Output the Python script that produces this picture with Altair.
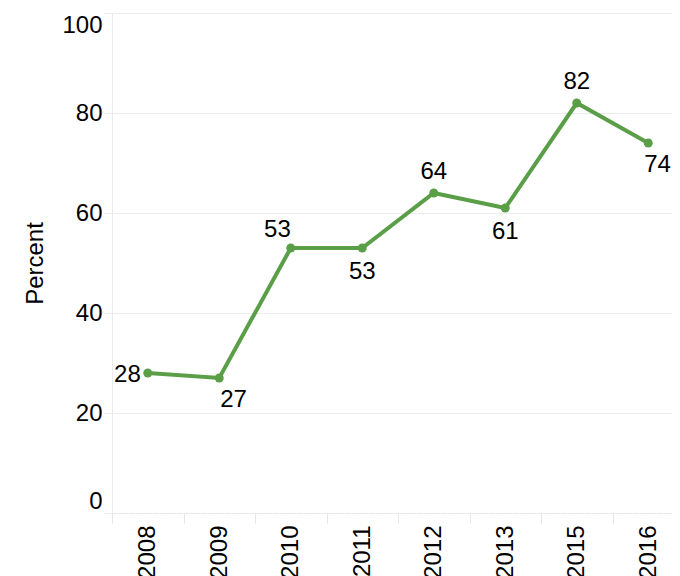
import altair as alt
import pandas as pd

years = ["2008", "2009", "2010", "2011", "2012", "2013", "2015", "2016"]
values = [28, 27, 53, 53, 64, 61, 82, 74]

df = pd.DataFrame({"Year": years, "Percent": values})

GREEN = "#5a9f48"
FONT = "Liberation Sans"

x = alt.X(
    "Year:N",
    sort=years,
    title=None,
    scale=alt.Scale(type="band", paddingInner=0, paddingOuter=0),
    axis=alt.Axis(
        labelAngle=-90,
        labelFontSize=24,
        labelColor="#000",
        labelFont=FONT,
        tickBand="extent",
        tickColor="#e6e6e6",
        tickSize=10,
        labelPadding=2,
        domainColor="#e6e6e6",
        domainDash=[4, 2],
        grid=False,
    ),
)
y = alt.Y(
    "Percent:Q",
    title="Percent",
    scale=alt.Scale(domain=[0, 100], nice=False, zero=True),
    axis=alt.Axis(
        values=[0, 20, 40, 60, 80, 100],
        labelFontSize=24,
        labelColor="#000",
        labelFont=FONT,
        labelFlush=True,
        tickColor="#ebebeb",
        tickSize=8,
        labelPadding=2,
        domainColor="#ebebeb",
        gridColor="#ededed",
        titleFontSize=24,
        titleFont=FONT,
        titleFontWeight="normal",
        titleColor="#000",
        titlePadding=14,
    ),
)

base = alt.Chart(df)

line = base.mark_line(color=GREEN, strokeWidth=4).encode(x=x, y=y)
pts = base.mark_point(color=GREEN, filled=True, size=80, opacity=1).encode(x=x, y=y)


def labels(sel, **kw):
    return (
        base.transform_filter(alt.FieldOneOfPredicate(field="Year", oneOf=sel))
        .mark_text(fontSize=24, font=FONT, color="#000", baseline="alphabetic", **kw)
        .encode(x=x, y=y, text="Percent:Q")
    )


lab_left = labels(["2008"], align="right", dx=-7, dy=9)
lab_below_right = labels(["2009"], align="left", dx=1, dy=29)
lab_end = labels(["2016"], align="left", dx=-4, dy=29)
lab_above_left = labels(["2010"], align="right", dx=0, dy=-11)
lab_below = labels(["2011", "2013"], align="center", dy=31)
lab_above = labels(["2012", "2015"], align="center", dy=-14)

chart = (
    alt.layer(line, pts, lab_left, lab_below_right, lab_end, lab_above_left, lab_below, lab_above)
    .properties(
        width=572,
        height=500,
        background="white",
        autosize=alt.AutoSizeParams(type="none"),
        padding={"left": 104, "top": 5, "right": -12, "bottom": 70},
    )
    .configure_view(stroke=None)
)

chart.save("out.html", embed_options={"renderer": "svg", "actions": False})
